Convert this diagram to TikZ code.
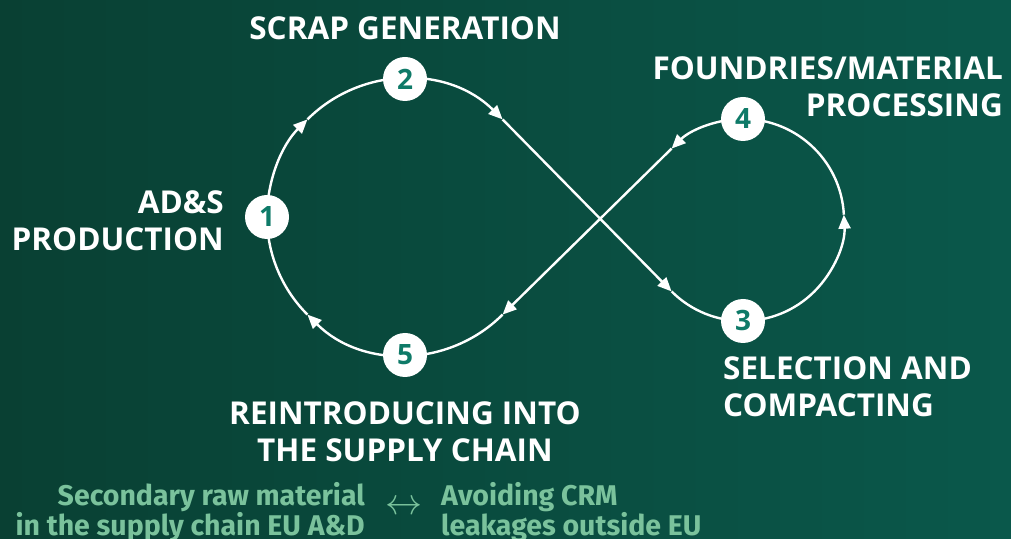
\documentclass[tikz,border=0pt]{standalone}
\usepackage{fontspec}
\usepackage{graphicx}
\setmainfont{Open Sans}
\newfontfamily\botfont{Fira Sans}
\usetikzlibrary{arrows.meta}
\definecolor{bgL}{RGB}{9,64,51}
\definecolor{bgR}{RGB}{10,88,75}
\definecolor{numteal}{RGB}{14,122,104}
\definecolor{lightgreen}{RGB}{122,194,156}
\begin{document}
\begin{tikzpicture}[x=1pt,y=1pt,
  flow/.style={white, line width=2.4pt},
  tipped/.style={-{Triangle[length=14pt,width=12pt]}},
  num/.style={circle, fill=white, minimum size=44pt, inner sep=0pt, text=numteal,
    font=\fontsize{28}{28}\selectfont\bfseries},
  lab/.style={text=white, inner sep=0pt, font=\fontsize{31.5}{37}\selectfont\bfseries},
  bot/.style={text=lightgreen, inner sep=0pt, font=\botfont\fontsize{28.5}{30}\selectfont\bfseries}]
\useasboundingbox (0,0) rectangle (1011,538);
\shade[left color=bgL, right color=bgR] (0,0) rectangle (1011,538);
% geometry
\coordinate (Lc) at (405,321);
\coordinate (Rc) at (743,318);
\coordinate (c1) at ([shift={(180:138pt)}]Lc);
\coordinate (c2) at ([shift={(90:138pt)}]Lc);
\coordinate (c5) at ([shift={(270:138pt)}]Lc);
\coordinate (c4) at ([shift={(90:101pt)}]Rc);
\coordinate (c3) at ([shift={(270:101pt)}]Rc);
\coordinate (L45) at ([shift={(45:138pt)}]Lc);
\coordinate (L135) at ([shift={(135:138pt)}]Lc);
\coordinate (L225) at ([shift={(225:138pt)}]Lc);
\coordinate (L315) at ([shift={(315:138pt)}]Lc);
\coordinate (R225) at ([shift={(225:101pt)}]Rc);
\coordinate (R135) at ([shift={(135:101pt)}]Rc);
\coordinate (R3) at ([shift={(3:101pt)}]Rc);
% flow
\draw[flow,tipped] (c1) arc[start angle=180, end angle=135, radius=138pt];
\draw[flow,tipped] (L135) arc[start angle=135, end angle=45, radius=138pt];
\draw[flow,tipped] (L45) -- (R225);
\draw[flow,tipped] (R225) arc[start angle=225, end angle=363, radius=101pt];
\draw[flow,tipped] (R3) arc[start angle=3, end angle=135, radius=101pt];
\draw[flow,tipped] (R135) -- (L315);
\draw[flow,tipped] (L315) arc[start angle=315, end angle=225, radius=138pt];
\draw[flow] (L225) arc[start angle=225, end angle=180, radius=138pt];
% numbered nodes
\node[num] (n1) at (c1) {1};
\node[num] (n2) at (c2) {2};
\node[num] (n3) at (c3) {3};
\node[num] (n4) at (c4) {4};
\node[num] (n5) at (c5) {5};
% labels
\node[lab, anchor=north] (t2) at (405,522) {SCRAP GENERATION};
\node[lab, anchor=north east, align=right] (t4) at (1003,482) {FOUNDRIES/MATERIAL\\PROCESSING};
\node[lab, anchor=north east, align=right] (t1) at (224,348) {AD\&S\\PRODUCTION};
\node[lab, anchor=north west, align=left] (t3) at (723,182) {SELECTION AND\\COMPACTING};
\node[lab, anchor=north, align=center] (t5) at (405,137) {REINTRODUCING INTO\\THE SUPPLY CHAIN};
% bottom
\node[bot, anchor=north east, align=right] (b1) at (365,56) {Secondary raw material\\in the supply chain EU A\&D};
\node[bot, anchor=north west, align=left] (b2) at (441,56) {Avoiding CRM\\leakages outside EU};
\node[text=lightgreen, inner sep=0pt] (bx) at (404,30) {\scalebox{3.7}{$\leftrightarrow$}};
\end{tikzpicture}
\end{document}
